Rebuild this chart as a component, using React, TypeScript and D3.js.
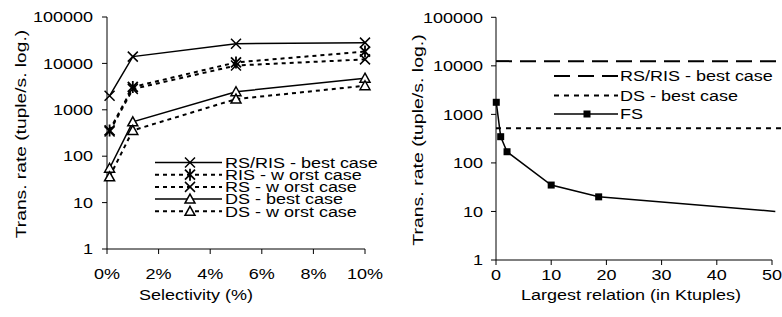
import React from "react";
import * as d3 from "d3";

// left chart: transfer rate vs selectivity
const selectivity = [0.1, 1, 5, 10];
const rsRisBest = [2000, 14000, 26500, 28000];
const risWorst = [360, 3100, 10500, 18000];
const rsWorst = [340, 2800, 9000, 12200];
const dsBest = [55, 550, 2450, 4800];
const dsWorst = [36, 360, 1700, 3300];

// right chart: transfer rate vs largest relation
const fsSize = [0.05, 0.85, 2, 10, 18.6, 50.6];
const fsRate = [1775, 347, 170, 35, 20, 10];
const fsMarked = 5;
const rsRisBestLevel = 12500;
const dsBestLevel = 520;
const levelSpan = [0, 52];

const yTicks = [1, 10, 100, 1000, 10000, 100000];
const xTicksLeft = [0, 2, 4, 6, 8, 10];
const xTicksRight = [0, 10, 20, 30, 40, 50];

const FONT = "'Liberation Sans', Arial, sans-serif";
const SX = 1.2;

const Label = ({ x, y, anchor = "middle", rotate = 0, stretch = SX, size = 15, children }: any) => (
  <text
    transform={`translate(${x},${y}) rotate(${rotate}) scale(${stretch},1)`}
    textAnchor={anchor}
    dy="0.35em"
    fontSize={size}
    fontFamily={FONT}
    fill="#000"
  >
    {children}
  </text>
);

const Marker = ({ type, x, y }: any) => {
  const s = 5;
  if (type === "x")
    return <path d={`M${x - s},${y - s}L${x + s},${y + s}M${x - s},${y + s}L${x + s},${y - s}`} stroke="#000" strokeWidth={1.5} />;
  if (type === "star")
    return (
      <path
        d={`M${x - s},${y - s}L${x + s},${y + s}M${x - s},${y + s}L${x + s},${y - s}M${x},${y - s - 1}L${x},${y + s + 1}`}
        stroke="#000"
        strokeWidth={1.8}
      />
    );
  if (type === "tri")
    return <path d={`M${x},${y - 5}L${x + 5},${y + 4}L${x - 5},${y + 4}Z`} fill="#fff" stroke="#000" strokeWidth={1.5} />;
  if (type === "sq") return <rect x={x - 3.5} y={y - 3.5} width={7} height={7} fill="#000" />;
  return null;
};

const leftSeries = [
  { name: "RS/RIS - best case", values: rsRisBest, dash: null, marker: "x" },
  { name: "RIS - w orst case", values: risWorst, dash: "4,4", marker: "star" },
  { name: "RS - w orst case", values: rsWorst, dash: "4,4", marker: "x" },
  { name: "DS - best case", values: dsBest, dash: null, marker: "tri" },
  { name: "DS - w orst case", values: dsWorst, dash: "4,4", marker: "tri" },
];

export default function App() {
  const xL = d3.scaleLinear().domain([0, 10]).range([107, 365]);
  const yL = d3.scaleLog().domain([1, 100000]).range([249, 17]);
  const xR = d3.scaleLinear().domain([0, 50]).range([496, 772]);
  const yR = d3.scaleLog().domain([1, 100000]).range([260, 17.3]);

  const lineL = d3
    .line<number>()
    .x((_, i) => xL(selectivity[i]))
    .y((d) => yL(d));
  const lineR = d3
    .line<number>()
    .x((_, i) => xR(fsSize[i]))
    .y((d) => yR(d));

  return (
    <svg width={782} height={317} style={{ position: "absolute", left: 0, top: 0, background: "#fff" }}>
      {/* left axes */}
      <line x1={xL(0)} x2={xL(0)} y1={yL(100000)} y2={yL(1)} stroke="#000" />
      <line x1={xL(0)} x2={xL(10)} y1={yL(1)} y2={yL(1)} stroke="#000" />
      {yTicks.map((t) => (
        <g key={"ly" + t}>
          <line x1={xL(0) - 5} x2={xL(0)} y1={yL(t)} y2={yL(t)} stroke="#000" />
          <Label x={93} y={yL(t)} anchor="end">{t}</Label>
        </g>
      ))}
      {xTicksLeft.map((t) => (
        <g key={"lx" + t}>
          <line x1={xL(t)} x2={xL(t)} y1={yL(1)} y2={yL(1) + 5} stroke="#000" />
          <Label x={xL(t)} y={274}>{t + "%"}</Label>
        </g>
      ))}
      <Label x={196} y={295}>Selectivity (%)</Label>
      <Label x={21} y={134} rotate={-90} stretch={1.28}>Trans. rate (tuple/s. log.)</Label>

      {leftSeries.map((s) => (
        <g key={s.name}>
          <path d={lineL(s.values) || ""} fill="none" stroke="#000" strokeWidth={s.dash ? 2 : 1.5} strokeDasharray={s.dash || undefined} />
          {s.values.map((v, i) => (
            <Marker key={i} type={s.marker} x={xL(selectivity[i])} y={yL(v)} />
          ))}
        </g>
      ))}

      {/* left legend */}
      {leftSeries.map((s, i) => {
        const y = 162.5 + i * 12.2;
        return (
          <g key={"lg" + s.name}>
            <line x1={155} x2={222} y1={y} y2={y} stroke="#000" strokeWidth={s.dash ? 2 : 1.5} strokeDasharray={s.dash || undefined} />
            <Marker type={s.marker} x={190} y={y} />
            <Label x={225} y={y} anchor="start">{s.name}</Label>
          </g>
        );
      })}

      {/* right axes */}
      <line x1={xR(0)} x2={xR(0)} y1={yR(100000)} y2={yR(1)} stroke="#000" />
      <line x1={xR(0)} x2={xR(50)} y1={yR(1)} y2={yR(1)} stroke="#000" />
      {yTicks.map((t) => (
        <g key={"ry" + t}>
          <line x1={xR(0) - 5} x2={xR(0)} y1={yR(t)} y2={yR(t)} stroke="#000" />
          <Label x={483} y={yR(t)} anchor="end">{t}</Label>
        </g>
      ))}
      {xTicksRight.map((t) => (
        <g key={"rx" + t}>
          <line x1={xR(t)} x2={xR(t)} y1={yR(1)} y2={yR(1) + 5} stroke="#000" />
          <Label x={xR(t)} y={275}>{t}</Label>
        </g>
      ))}
      <Label x={631} y={295}>Largest relation (in Ktuples)</Label>
      <Label x={418} y={140} rotate={-90} stretch={1.3}>Trans. rate (tuple/s. log.)</Label>

      <line x1={xR(levelSpan[0])} x2={xR(levelSpan[1])} y1={yR(rsRisBestLevel)} y2={yR(rsRisBestLevel)} stroke="#000" strokeWidth={2} strokeDasharray="16,8" />
      <line x1={xR(levelSpan[0])} x2={xR(levelSpan[1])} y1={yR(dsBestLevel)} y2={yR(dsBestLevel)} stroke="#000" strokeWidth={2} strokeDasharray="5,5" />
      <path d={lineR(fsRate) || ""} fill="none" stroke="#000" strokeWidth={1.5} />
      {fsRate.slice(0, fsMarked).map((v, i) => (
        <Marker key={i} type="sq" x={xR(fsSize[i])} y={yR(v)} />
      ))}

      {/* right legend */}
      <line x1={554} x2={618} y1={76} y2={76} stroke="#000" strokeWidth={2} strokeDasharray="16,8" />
      <Label x={620} y={76} anchor="start">RS/RIS - best case</Label>
      <line x1={554} x2={618} y1={95.5} y2={95.5} stroke="#000" strokeWidth={2} strokeDasharray="5,5" />
      <Label x={620} y={95.5} anchor="start">DS - best case</Label>
      <line x1={554} x2={618} y1={114} y2={114} stroke="#000" strokeWidth={1.5} />
      <Marker type="sq" x={587} y={114} />
      <Label x={620} y={114} anchor="start">FS</Label>
    </svg>
  );
}
